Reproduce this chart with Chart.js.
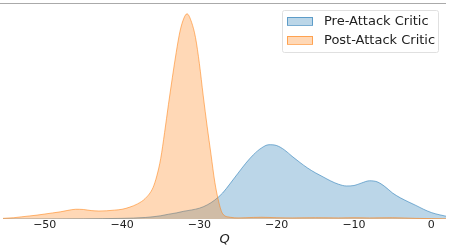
<!DOCTYPE html>
<html>
<head>
<meta charset="utf-8">
<script src="https://cdn.jsdelivr.net/npm/chart.js@4"></script>
<style>
  html, body { margin: 0; padding: 0; background: #fff; }
  #wrap { width: 450px; height: 246px; position: relative; }
</style>
</head>
<body>
<div id="wrap"><canvas id="c"></canvas></div>
<script>
// KDE curves (Q, density)
const preQ = [-55.4, -45, -40, -37, -35, -34, -33, -32, -31, -30, -29, -28, -27, -26, -25, -24, -23, -22, -21, -20, -19, -18, -17, -16, -15, -14, -13, -12, -11, -10, -9, -8, -7, -6, -5, -4, -3, -2, -1, 0, 1, 1.9];
const preDensity = [0, 0.001, 0.003, 0.007, 0.015, 0.022, 0.028, 0.036, 0.042, 0.05, 0.065, 0.088, 0.12, 0.165, 0.212, 0.258, 0.298, 0.328, 0.344, 0.34, 0.32, 0.29, 0.262, 0.236, 0.214, 0.195, 0.176, 0.161, 0.153, 0.155, 0.167, 0.177, 0.172, 0.15, 0.12, 0.098, 0.08, 0.063, 0.045, 0.03, 0.02, 0.013];

const postQ = [-55.4, -54, -53, -52, -51, -50, -49, -48, -47, -46, -45, -44, -43, -42, -41, -40, -39, -38, -37, -36, -35.5, -35, -34.5, -34, -33, -32.5, -32, -31.6, -31, -30.5, -30, -29.5, -29, -28.5, -28, -27.5, -27, -26, -25, -24, -22, -20, -18, -15, -12, -10, -8, -5, -2, 0, 1.9];
const postDensity = [0.003, 0.006, 0.01, 0.014, 0.018, 0.023, 0.028, 0.033, 0.04, 0.045, 0.044, 0.039, 0.037, 0.038, 0.041, 0.045, 0.055, 0.07, 0.095, 0.145, 0.2, 0.28, 0.4, 0.53, 0.77, 0.87, 0.93, 0.95, 0.91, 0.84, 0.72, 0.57, 0.43, 0.3, 0.17, 0.08, 0.025, 0.008, 0.005, 0.006, 0.008, 0.006, 0.005, 0.006, 0.005, 0.006, 0.005, 0.006, 0.003, 0.002, 0.001];

const xTicks = [-50, -40, -30, -20, -10, 0];
const seriesNames = ['Pre-Attack Critic', 'Post-Attack Critic'];

const BLUE = '31,119,180';
const ORANGE = '255,127,14';

const pts = (xs, ys) => xs.map((x, i) => ({ x, y: ys[i] }));

// top spine + framed legend like matplotlib
const extras = {
  id: 'extras',
  afterDraw(chart) {
    const { ctx, chartArea: a } = chart;
    ctx.save();
    ctx.strokeStyle = '#aaaaaa';
    ctx.lineWidth = 1;
    ctx.beginPath();
    ctx.moveTo(a.left - 3, a.top + 0.5);
    ctx.lineTo(a.right, a.top + 0.5);
    ctx.stroke();

    const bx = 282.5, by = 10.5, bw = 156, bh = 42;
    ctx.fillStyle = 'rgba(255,255,255,0.8)';
    ctx.strokeStyle = '#e0e0e0';
    ctx.beginPath();
    ctx.roundRect(bx, by, bw, bh, 2);
    ctx.fill();
    ctx.stroke();

    const cols = [BLUE, ORANGE];
    ctx.font = '13px "DejaVu Sans"';
    ctx.textBaseline = 'middle';
    seriesNames.forEach((name, i) => {
      const y = 21 + i * 19;
      ctx.fillStyle = `rgba(${cols[i]},0.3)`;
      ctx.fillRect(287, y - 4, 26, 8);
      ctx.strokeStyle = `rgba(${cols[i]},0.6)`;
      ctx.strokeRect(287.5, y - 3.5, 25, 8);
      ctx.fillStyle = '#222';
      ctx.fillText(name, 324, y + 0.5);
    });
    ctx.restore();
  }
};

new Chart(document.getElementById('c'), {
  type: 'line',
  data: {
    datasets: [
      {
        label: seriesNames[0],
        data: pts(preQ, preDensity),
        fill: 'origin',
        backgroundColor: `rgba(${BLUE},0.3)`,
        borderColor: `rgba(${BLUE},0.55)`,
        borderWidth: 1,
        pointRadius: 0,
        cubicInterpolationMode: 'monotone',
        order: 2
      },
      {
        label: seriesNames[1],
        data: pts(postQ, postDensity),
        fill: 'origin',
        backgroundColor: `rgba(${ORANGE},0.3)`,
        borderColor: `rgba(${ORANGE},0.55)`,
        borderWidth: 1,
        pointRadius: 0,
        cubicInterpolationMode: 'monotone',
        order: 1
      }
    ]
  },
  options: {
    responsive: true, maintainAspectRatio: false, animation: false,
    layout: { padding: { left: 3, right: 4, top: 3, bottom: 0 } },
    plugins: { legend: { display: false }, tooltip: { enabled: false } },
    scales: {
      x: {
        type: 'linear', min: -55.4, max: 1.9,
        grid: { display: false, drawTicks: false },
        border: { display: false },
        afterBuildTicks: (s) => { s.ticks = xTicks.map(v => ({ value: v })); },
        ticks: {
          color: '#222', font: { family: 'DejaVu Sans', size: 11, lineHeight: 1 }, padding: 1,
          maxRotation: 0,
          callback: (v) => v < 0 ? '\u2212' + Math.abs(v) : String(v)
        },
        title: {
          display: true, text: 'Q', color: '#222',
          font: { family: 'DejaVu Sans', size: 13, style: 'italic', lineHeight: 1 },
          padding: { top: 1, bottom: 0 }
        }
      },
      y: { display: false, min: 0, max: 1 }
    }
  },
  plugins: [extras]
});
</script>
</body>
</html>
